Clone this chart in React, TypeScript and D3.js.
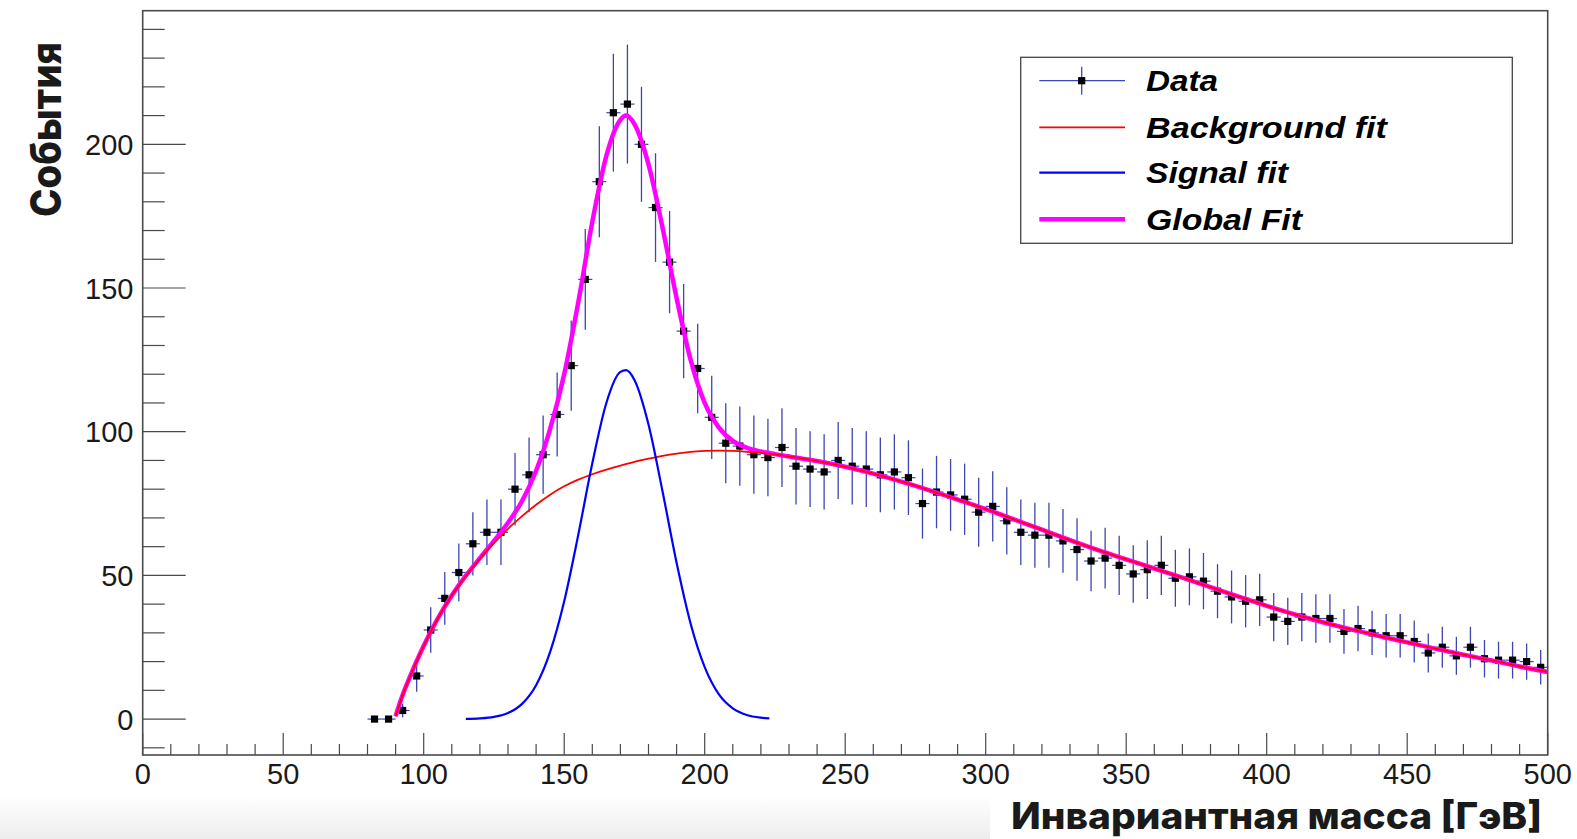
import React from 'react';
import * as d3 from 'd3';

const W = 1577;
const H = 839;

// Histogram bins (centres, GeV), counts and vertical errors
const binCenters = [
  82.5, 87.5, 92.5, 97.5,
  102.5, 107.5, 112.5, 117.5, 122.5, 127.5, 132.5, 137.5, 142.5, 147.5,
  152.5, 157.5, 162.5, 167.5, 172.5, 177.5, 182.5, 187.5, 192.5, 197.5,
  202.5, 207.5, 212.5, 217.5, 222.5, 227.5, 232.5, 237.5, 242.5, 247.5,
  252.5, 257.5, 262.5, 267.5, 272.5, 277.5, 282.5, 287.5, 292.5, 297.5,
  302.5, 307.5, 312.5, 317.5, 322.5, 327.5, 332.5, 337.5, 342.5, 347.5,
  352.5, 357.5, 362.5, 367.5, 372.5, 377.5, 382.5, 387.5, 392.5, 397.5,
  402.5, 407.5, 412.5, 417.5, 422.5, 427.5, 432.5, 437.5, 442.5, 447.5,
  452.5, 457.5, 462.5, 467.5, 472.5, 477.5, 482.5, 487.5, 492.5, 497.5,
];
const counts = [
  0, 0, 3, 15,
  31, 42, 51, 61, 65, 65, 80, 85, 92, 106,
  123, 153, 187, 211, 214, 200, 178, 159, 135, 122,
  105, 96, 95, 92, 91, 94.5, 88, 87, 86, 90,
  88, 87, 85, 86, 84, 75, 79, 78, 76.5, 72,
  74, 69, 65, 64, 64, 62, 59, 55, 56, 53.5,
  50.5, 52, 53.5, 49, 49.5, 48, 44.5, 42.5, 41, 41.5,
  35.5, 34, 35.5, 35, 35, 30.5, 31.5, 30, 29, 29,
  27, 23, 25, 22, 25, 21, 20.5, 20.5, 20, 18,
];
const errors = [
  0, 0, 2.4, 5.5,
  7.9, 9.2, 10.1, 11.0, 11.4, 11.4, 12.6, 13.0, 13.6, 14.6,
  15.7, 17.5, 19.3, 20.5, 20.7, 20.0, 18.9, 17.8, 16.4, 15.6,
  14.5, 13.9, 13.8, 13.6, 13.5, 13.7, 13.3, 13.2, 13.1, 13.4,
  13.3, 13.2, 13.0, 13.1, 13.0, 12.2, 12.6, 12.5, 12.4, 12.0,
  12.2, 11.7, 11.4, 11.3, 11.3, 11.1, 10.9, 10.5, 10.6, 10.3,
  10.0, 10.2, 10.3, 9.9, 9.9, 9.8, 9.4, 9.2, 9.1, 9.1,
  8.4, 8.2, 8.4, 8.4, 8.4, 7.8, 7.9, 7.7, 7.6, 7.6,
  7.3, 6.8, 7.1, 6.6, 7.1, 6.5, 6.4, 6.4, 6.3, 6.0,
];
const binHalfWidth = 2.5;

// Background fit (red)
const bgX = [90, 92, 95, 100, 105, 110, 115, 120, 125, 130, 135, 140, 145, 150, 155, 160, 165, 170, 175, 180, 185, 190, 195, 200, 205, 210, 215, 220, 225, 230, 240, 250, 260, 270, 280, 290, 300, 310, 320, 330, 340, 350, 360, 370, 380, 390, 400, 410, 420, 430, 440, 450, 460, 470, 480, 490, 500];
const bgY = [1, 7, 14.5, 25.5, 35, 43, 49.8, 55.8, 61.2, 66.2, 70.6, 74.6, 78.1, 81.0, 83.3, 85.2, 86.8, 88.2, 89.5, 90.6, 91.6, 92.4, 93, 93.3, 93.4, 93.3, 93, 92.6, 92.1, 91.4, 89.8, 87.8, 85.4, 82.6, 79.6, 76.4, 73.1, 69.5, 65.9, 62.3, 58.8, 55.6, 52.4, 49.2, 45.9, 42.6, 39.4, 36.4, 33.7, 31.2, 28.9, 26.7, 24.5, 22.4, 20.4, 18.3, 16.4];

// Signal fit (blue)
const sigX = [115, 120, 125, 130, 135, 140, 145, 150, 155, 160, 165, 170, 172, 175, 180, 185, 190, 195, 200, 205, 210, 215, 220, 223];
const sigY = [0.07, 0.24, 0.76, 2.1, 5.3, 11.8, 23.4, 41, 64.1, 89, 110, 120.8, 121.4, 118, 102.5, 79.2, 54.4, 33.2, 18.1, 8.7, 3.75, 1.43, 0.49, 0.24];

// Global fit (magenta)
const globX = [90, 92, 95, 100, 105, 110, 115, 120, 125, 130, 135, 140, 145, 150, 155, 160, 165, 170, 172, 175, 180, 185, 190, 195, 200, 205, 210, 215, 220, 225, 230, 240, 250, 260, 270, 280, 290, 300, 310, 320, 330, 340, 350, 360, 370, 380, 390, 400, 410, 420, 430, 440, 450, 460, 470, 480, 490, 500];
const globY = [1, 7, 14.5, 25.5, 35, 43, 49.9, 56.0, 62.0, 68.3, 75.9, 86.4, 101, 120, 145, 173, 196, 208.5, 210, 207, 193, 171, 146.5, 125, 110, 101.5, 96.8, 94.4, 93.1, 92.2, 91.4, 89.8, 87.8, 85.4, 82.6, 79.6, 76.4, 73.1, 69.5, 65.9, 62.3, 58.8, 55.6, 52.4, 49.2, 45.9, 42.6, 39.4, 36.4, 33.7, 31.2, 28.9, 26.7, 24.5, 22.4, 20.4, 18.3, 16.4];

const xMajorTicks = [0, 50, 100, 150, 200, 250, 300, 350, 400, 450, 500];
const yMajorTicks = [0, 50, 100, 150, 200];

const legendLabels = ['Data', 'Background fit', 'Signal fit', 'Global Fit'];
const legendWidths = [72, 241, 142, 156];

const yTitle = 'События';
const xTitle = 'Инвариантная масса [ГэВ]';

const FRAME = { left: 142.7, right: 1547.7, top: 10.7, bottom: 755 };

export default function App() {
  const x = d3.scaleLinear().domain([0, 500]).range([FRAME.left, FRAME.right]);
  const y = d3.scaleLinear().domain([-12.5, 246.5]).range([FRAME.bottom, FRAME.top]);

  const line = d3
    .line<[number, number]>()
    .x((d) => x(d[0]))
    .y((d) => y(d[1]))
    .curve(d3.curveMonotoneX);

  const bgPath = line(bgX.map((v, i) => [v, bgY[i]]) as [number, number][]) || '';
  const sigPath = line(sigX.map((v, i) => [v, sigY[i]]) as [number, number][]) || '';
  const globPath = line(globX.map((v, i) => [v, globY[i]]) as [number, number][]) || '';

  const xMinor = d3.range(0, 501, 10).filter((v) => v % 50 !== 0);
  const yMinor = d3.range(-10, 246, 10).filter((v) => v % 50 !== 0);

  const axisColor = '#4a4a4a';
  const errColor = '#3c45b0';
  const tickFont = '"Liberation Sans", Arial, sans-serif';

  const legendRowsY = [80.7, 127.3, 172.7, 219.3];
  const legendLineX1 = 1039.3;
  const legendLineX2 = 1125;

  return (
    <svg
      width={W}
      height={H}
      viewBox={`0 0 ${W} ${H}`}
      style={{ position: 'absolute', left: 0, top: 0, background: '#fff' }}
    >
      <defs>
        <linearGradient id="bottomFade" x1="0" y1="0" x2="0" y2="1">
          <stop offset="0" stopColor="#ffffff" />
          <stop offset="1" stopColor="#ededed" />
        </linearGradient>
      </defs>
      <rect x={0} y={0} width={W} height={H} fill="#fff" />
      <rect x={0} y={796} width={990} height={H - 796} fill="url(#bottomFade)" />
      <rect x={990} y={790} width={W - 990} height={H - 790} fill="#fff" />

      {/* frame */}
      <rect
        x={FRAME.left}
        y={FRAME.top}
        width={FRAME.right - FRAME.left}
        height={FRAME.bottom - FRAME.top}
        fill="none"
        stroke={axisColor}
        strokeWidth={1.6}
      />

      {/* y ticks */}
      {yMajorTicks.map((t) => (
        <g key={`ym${t}`}>
          <line x1={FRAME.left} x2={FRAME.left + 43} y1={y(t)} y2={y(t)} stroke={axisColor} strokeWidth={1.2} />
          <text
            x={133.5}
            y={y(t) + 10.5}
            textAnchor="end"
            fontFamily={tickFont}
            fontSize={29}
            fill="#1a1a1a"
          >
            {t}
          </text>
        </g>
      ))}
      {yMinor.map((t) => (
        <line key={`yn${t}`} x1={FRAME.left} x2={FRAME.left + 22} y1={y(t)} y2={y(t)} stroke={axisColor} strokeWidth={1.2} />
      ))}

      {/* x ticks */}
      {xMajorTicks.map((t) => (
        <g key={`xm${t}`}>
          <line x1={x(t)} x2={x(t)} y1={FRAME.bottom} y2={FRAME.bottom - 22} stroke={axisColor} strokeWidth={1.2} />
          <text x={x(t)} y={783.5} textAnchor="middle" fontFamily={tickFont} fontSize={29} fill="#1a1a1a">
            {t}
          </text>
        </g>
      ))}
      {xMinor.map((t) => (
        <line key={`xn${t}`} x1={x(t)} x2={x(t)} y1={FRAME.bottom} y2={FRAME.bottom - 11} stroke={axisColor} strokeWidth={1.2} />
      ))}

      {/* data points with error bars */}
      {binCenters.map((c, i) => (
        <g key={`d${i}`}>
          <line
            x1={x(c - binHalfWidth)}
            x2={x(c + binHalfWidth)}
            y1={y(counts[i])}
            y2={y(counts[i])}
            stroke={errColor}
            strokeWidth={1.2}
          />
          {errors[i] > 0 && (
            <line
              x1={x(c)}
              x2={x(c)}
              y1={y(counts[i] - errors[i])}
              y2={y(counts[i] + errors[i])}
              stroke={errColor}
              strokeWidth={1.3}
            />
          )}
          <rect x={x(c) - 3.6} y={y(counts[i]) - 3.6} width={7.2} height={7.2} fill="#000" />
        </g>
      ))}

      {/* fits */}
      <path d={globPath} fill="none" stroke="#ff00ff" strokeWidth={4.5} strokeLinejoin="round" />
      <path d={bgPath} fill="none" stroke="#ff0000" strokeWidth={1.8} />
      <path d={sigPath} fill="none" stroke="#0000ff" strokeWidth={2.2} />

      {/* legend */}
      <rect x={1020.7} y={57.3} width={491.6} height={186} fill="#fff" stroke="#444" strokeWidth={1.3} />
      <line x1={legendLineX1} x2={legendLineX2} y1={legendRowsY[0]} y2={legendRowsY[0]} stroke="#3c45c0" strokeWidth={1.2} />
      <line x1={1081.7} x2={1081.7} y1={legendRowsY[0] - 14} y2={legendRowsY[0] + 14} stroke="#3c45c0" strokeWidth={1.3} />
      <rect x={1081.7 - 3.6} y={legendRowsY[0] - 3.6} width={7.2} height={7.2} fill="#000" />
      <line x1={legendLineX1} x2={legendLineX2} y1={legendRowsY[1]} y2={legendRowsY[1]} stroke="#ff0000" strokeWidth={1.8} />
      <line x1={legendLineX1} x2={legendLineX2} y1={legendRowsY[2]} y2={legendRowsY[2]} stroke="#0000ff" strokeWidth={2.2} />
      <line x1={legendLineX1} x2={legendLineX2} y1={legendRowsY[3]} y2={legendRowsY[3]} stroke="#ff00ff" strokeWidth={4.5} />
      {legendLabels.map((lab, i) => (
        <text
          key={lab}
          x={1146}
          y={legendRowsY[i] + 10.5}
          fontFamily={tickFont}
          fontStyle="italic"
          fontWeight="bold"
          fontSize={29}
          fill="#000"
          textLength={legendWidths[i]}
          lengthAdjust="spacingAndGlyphs"
        >
          {lab}
        </text>
      ))}

      {/* axis titles */}
      <text
        transform={`translate(61,129.5) rotate(-90)`}
        textAnchor="middle"
        fontFamily="Inter, 'Open Sans', sans-serif"
        fontWeight={800}
        fontSize={42}
        fill="#1a1a1a"
        textLength={175}
        lengthAdjust="spacingAndGlyphs"
      >
        {yTitle}
      </text>
      <text
        x={1011}
        y={829}
        fontFamily="Inter, 'Open Sans', sans-serif"
        fontWeight={800}
        fontSize={37}
        fill="#1a1a1a"
        textLength={531}
        lengthAdjust="spacingAndGlyphs"
      >
        {xTitle}
      </text>
    </svg>
  );
}
